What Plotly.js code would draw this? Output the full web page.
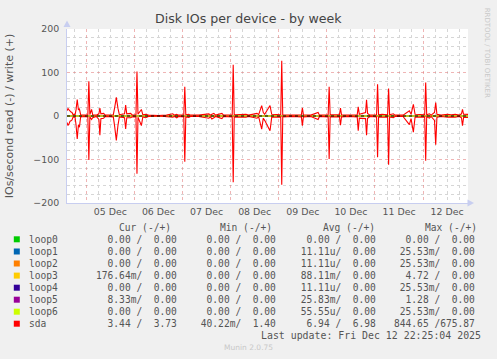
<!DOCTYPE html>
<html>
<head>
<meta charset="utf-8">
<script src="https://cdn.plot.ly/plotly-3.0.1.min.js"></script>
<style>
  html, body { margin: 0; padding: 0; background: #f0f0f0; }
  #chart { width: 497px; height: 359px; }
</style>
</head>
<body>
<div id="chart"></div>
<script>
// ---- Data (hours relative to 05 Dec 2025 00:00) ----
const hours = [-9.6,-9.1,-8.6,-8.1,-7.6,-7.1,-6.6,-6.1,-5.6,-5.1,-4.5,-3.9,-3.4,-2.8,-1,0.8,1.3,1.8,2.65,3.2,5,6.3,6.8,7.3,8.65,9.5,13.5,14.2,15,15.8,16.5,19.1,19.65,20.2,22.15,23,24.8,25.3,25.8,27.5,28.2,29.65,31,36,40,43.15,44,45.15,46,48.65,49.15,49.65,51.15,52,56,61.15,62,62.65,63.65,64.5,67.65,68.5,72.8,73.3,73.8,79.65,81,85.15,86,87.5,88.3,89,91.65,92.5,97,97.5,98,103,107.3,107.8,108.3,112,115.65,116.3,120.65,121.15,121.65,126.3,126.8,127.3,131,135.15,135.65,136.2,139.3,139.8,140.3,141.5,144.8,145.3,145.8,147.5,150.3,150.8,151.3,153.15,154,158,161.15,162,163.15,164,168.8,169.3,169.8,171.15,172,173.7,174.3,174.9,177,180.15,182,184,186,187.15,187.65,188.2,190.4];
const sdaWrite = [12,17,14,10,9,8,3,4,2,14,38,14,16,3,2,3,80,3,15,3,2,5,18,5,6,2,3,20,43,18,3,5,25,5,6,2,3,102,4,15,3,4,2,1,2,5,2,4,2,3,67,3,4,2,2,5,2,4,6,2,6,2,3,118,3,4,2,6,3,24,8,4,24,4,3,127,3,2,3,19,3,2,8,2,3,67,3,3,18,3,2,3,21,4,8,37,6,2,3,73,3,4,3,63,3,5,2,2,12,4,27,4,3,77,3,5,2,8,31,4,2,4,3,4,2,5,15,4,3.73];
const sdaRead  = [15,22,18,12,11,9,3,2,2,20,53,20,26,2,1,2,101,2,8,4,1,8,44,6,5,1,2,25,56,22,2,4,30,4,4,2,2,133,3,22,2,4,1,0,1,3,1,4,1,2,105,2,3,1,1,5,2,7,4,1,6,1,2,152,2,3,1,5,2,30,5,10,34,3,2,158,2,1,2,22,2,1,8,1,2,99,2,2,21,2,1,2,34,5,6,44,5,1,2,95,2,3,2,112,2,4,1,1,20,6,37,3,2,103,2,5,1,10,66,3,1,3,2,3,1,4,22,3,3.44];
const loopTimes = [-9.6, 190.4];
const loopZero = [0, 0];

// ---- Legend table ----
const names  = ['loop0','loop1','loop2','loop3','loop4','loop5','loop6','sda'];
const colors = ['#00cc00','#0066b3','#ff8000','#ffcc00','#330099','#990099','#ccff00','#ff0000'];
const curR = ['0.00','0.00','0.00','176.64m','0.00','8.33m','0.00','3.44'];
const curW = ['0.00','0.00','0.00','0.00','0.00','0.00','0.00','3.73'];
const minR = ['0.00','0.00','0.00','0.00','0.00','0.00','0.00','40.22m'];
const minW = ['0.00','0.00','0.00','0.00','0.00','0.00','0.00','1.40'];
const avgR = ['0.00','11.11u','11.11u','88.11m','11.11u','25.83m','55.55u','6.94'];
const avgW = ['0.00','0.00','0.00','0.00','0.00','0.00','0.00','6.98'];
const maxR = ['0.00','25.53m','25.53m','4.72','25.53m','1.28','25.53m','844.65'];
const maxW = ['0.00','0.00','0.00','0.00','0.00','0.00','0.00','675.87'];
const headers = ['Cur (-/+)','Min (-/+)','Avg (-/+)','Max (-/+)'];
const xTickFormat = '%d %b';

// ---- helpers ----
const T0 = Date.UTC(2025, 11, 5, 0, 0, 0);
function toDate(h) { return new Date(T0 + h * 3600000).toISOString().replace('T', ' ').slice(0, 19); }
const L = 67, R = 468, T = 29, B = 203;
const px = x => (x - L) / (R - L);
const py = y => (B - y) / (B - T);
const NB = '\u00A0';
function padL(s, n) { while (s.length < n) s = NB + s; return s; }
function fmtPair(r, w) {
  const num = v => /[a-zA-Z]$/.test(v) ? [v.slice(0, -1), v.slice(-1)] : [v, NB];
  const a = num(r), b = num(w);
  return padL(a[0], 6) + a[1] + '/' + padL(b[0], 6) + (b[1] === NB ? '' : b[1]);
}

const xs = hours.map(toDate);
const lx = loopTimes.map(toDate);
const traces = [];
names.slice(0, 7).forEach((n, i) => {
  traces.push({x: lx, y: loopZero, type: 'scatter', mode: 'lines', name: n + ' read', line: {color: colors[i], width: 1}, hoverinfo: 'skip'});
  traces.push({x: lx, y: loopZero, type: 'scatter', mode: 'lines', name: n + ' write', line: {color: colors[i], width: 1}, hoverinfo: 'skip'});
});
traces.push({x: xs, y: sdaRead.map(v => -v), type: 'scatter', mode: 'lines', name: 'sda read', line: {color: '#ff0000', width: 1.1}});
traces.push({x: xs, y: sdaWrite, type: 'scatter', mode: 'lines', name: 'sda write', line: {color: '#ff0000', width: 1.1}});

const mono = 'DejaVu Sans Mono';
const sans = 'DejaVu Sans';
const annotations = [];
const shapes = [];
const rowY = [239.3, 251.5, 263.5, 275.6, 287.7, 299.7, 311.7, 323.7];
const colEnd = [179, 278.3, 377.7, 476.7];
const headStart = [116.7, 218, 320.7, 422.7];
headers.forEach((h, j) => annotations.push({xref: 'paper', yref: 'paper', x: px(headStart[j]), y: py(227.3), xanchor: 'left', yanchor: 'middle', text: h, showarrow: false, font: {family: mono, size: 9.6, color: '#555'}}));
names.forEach((n, i) => {
  shapes.push({type: 'rect', xref: 'paper', yref: 'paper', x0: px(13.8), x1: px(19.8), y0: py(rowY[i] + 3), y1: py(rowY[i] - 3), fillcolor: colors[i], line: {width: 0}});
  annotations.push({xref: 'paper', yref: 'paper', x: px(26.5), y: py(rowY[i]), xanchor: 'left', yanchor: 'middle', text: n, showarrow: false, font: {family: mono, size: 9.6, color: '#555'}});
  const cells = [fmtPair(curR[i], curW[i]), fmtPair(minR[i], minW[i]), fmtPair(avgR[i], avgW[i]), fmtPair(maxR[i], maxW[i])];
  cells.forEach((c, j) => annotations.push({xref: 'paper', yref: 'paper', x: px(colEnd[j]), y: py(rowY[i]), xanchor: 'right', yanchor: 'middle', text: c, showarrow: false, font: {family: mono, size: 9.6, color: '#555'}}));
});
annotations.push({xref: 'paper', yref: 'paper', x: px(482.5), y: py(335.7), xanchor: 'right', yanchor: 'middle', text: 'Last update: Fri Dec 12 22:25:04 2025', showarrow: false, font: {family: mono, size: 9.9, color: '#555'}});
annotations.push({xref: 'paper', yref: 'paper', x: px(248), y: py(347.7), xanchor: 'center', yanchor: 'middle', text: 'Munin 2.0.75', showarrow: false, font: {family: sans, size: 7.5, color: '#c8c8c8'}});
annotations.push({xref: 'paper', yref: 'paper', x: px(487.3), y: py(53), xanchor: 'center', yanchor: 'middle', textangle: 90, text: 'RRDTOOL / TOBI OETIKER', showarrow: false, font: {family: sans, size: 7, color: '#c8c8c8'}});

const axisCol = '#c8cef0';
shapes.push({type: 'path', xref: 'paper', yref: 'paper', path: `M ${px(63.5)} ${py(27)} L ${px(70.5)} ${py(27)} L ${px(67)} ${py(20.5)} Z`, fillcolor: axisCol, line: {width: 0}});
shapes.push({type: 'path', xref: 'paper', yref: 'paper', path: `M ${px(467.5)} ${py(199.5)} L ${px(467.5)} ${py(206.5)} L ${px(474)} ${py(203)} Z`, fillcolor: axisCol, line: {width: 0}});
// zero rule drawn over the series, as in the rrdtool output
shapes.push({type: 'line', xref: 'paper', yref: 'y', x0: 0, x1: 1, y0: 0, y1: 0, layer: 'above', line: {color: '#000000', width: 1, dash: 'dot'}});

const layout = {
  width: 497, height: 359,
  margin: {l: L, r: 497 - R, t: T, b: 359 - B, pad: 0},
  paper_bgcolor: '#f0f0f0', plot_bgcolor: '#ffffff',
  showlegend: false,
  title: {text: 'Disk IOs per device - by week', x: px(248.3), xref: 'paper', xanchor: 'center', y: 1 - 19 / 359, yref: 'container', yanchor: 'middle', font: {family: sans, size: 12.6, color: '#444'}},
  xaxis: {
    type: 'date', range: [toDate(-9.6), toDate(190.4)],
    tick0: '2025-12-05', dtick: 86400000, ticklabelmode: 'period', tickformat: xTickFormat,
    showgrid: true, gridcolor: 'rgba(225,120,120,0.55)', griddash: 'dot', gridwidth: 1,
    minor: {dtick: 21600000, showgrid: true, gridcolor: '#d6d6d6', griddash: 'dot', gridwidth: 1},
    showline: true, linecolor: axisCol, linewidth: 1, ticks: '', zeroline: false,
    tickfont: {family: sans, size: 9.4, color: '#555'}, fixedrange: true
  },
  yaxis: {
    range: [-200, 200], dtick: 100, tick0: 0,
    showgrid: true, gridcolor: 'rgba(225,120,120,0.55)', griddash: 'dot', gridwidth: 1,
    minor: {dtick: 20, showgrid: true, gridcolor: '#d6d6d6', griddash: 'dot', gridwidth: 1},
    zeroline: true, zerolinecolor: '#000000', zerolinewidth: 1,
    showline: true, linecolor: axisCol, linewidth: 1, ticks: '',
    ticklabelstandoff: 5,
    tickfont: {family: sans, size: 9.4, color: '#555'},
    title: {text: 'IOs/second read (-) / write (+)', standoff: 17, font: {family: sans, size: 11, color: '#555'}},
    fixedrange: true
  },
  annotations: annotations,
  shapes: shapes
};
Plotly.newPlot('chart', traces, layout, {staticPlot: true, displayModeBar: false});
</script>
</body>
</html>
